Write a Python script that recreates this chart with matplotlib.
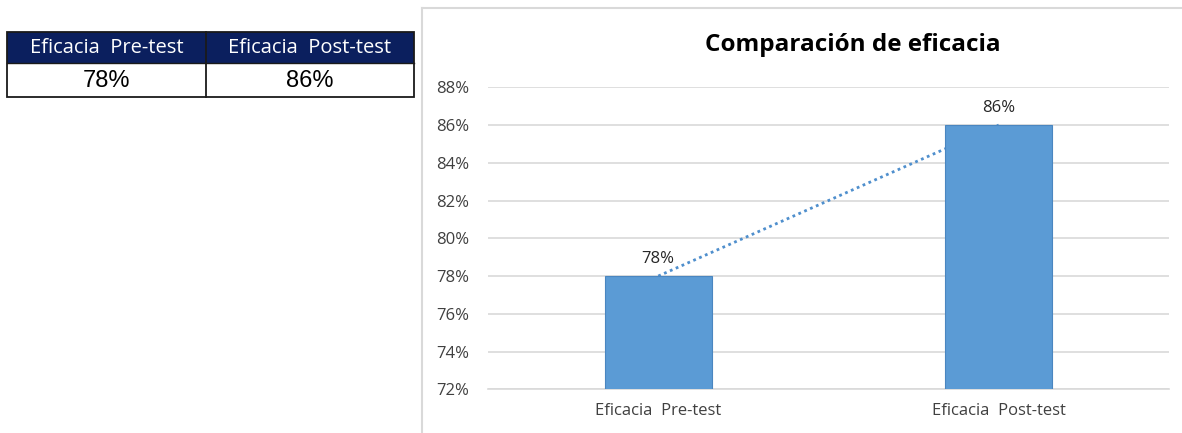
import matplotlib
matplotlib.use("Agg")
import matplotlib.pyplot as plt
from matplotlib.patches import Rectangle
from matplotlib.lines import Line2D
from matplotlib.ticker import FuncFormatter

categories = ["Eficacia  Pre-test", "Eficacia  Post-test"]
values = [78, 86]
y_ticks = [72, 74, 76, 78, 80, 82, 84, 86, 88]
title = "Comparación de eficacia"

W, H = 1182, 433
fig = plt.figure(figsize=(W / 100, H / 100), dpi=100)
fig.patch.set_facecolor("white")

def fx(px):
    return px / W

def fy(py):
    return 1 - py / H

# chart frame
frame_color = "#D9D9D9"
fig.add_artist(Line2D([fx(422), fx(422)], [fy(8), 0], color=frame_color, lw=1.5, transform=fig.transFigure))
fig.add_artist(Line2D([fx(422), 1], [fy(8), fy(8)], color=frame_color, lw=1.5, transform=fig.transFigure))

# plot area
ax = fig.add_axes([fx(488), fy(389.3), fx(1169) - fx(488), fy(87.3) - fy(389.3)])
x = list(range(len(categories)))
bar_color = "#5B9BD5"
ax.bar(x, values, width=0.315, bottom=0, color=bar_color, edgecolor="#4A86C0", lw=0.8, zorder=3)
# linear trend through the two values
ax.plot(x, values, linestyle=(0, (1, 1.3)), color="#4F8FCD", lw=2.0, zorder=2)
for xi, v in zip(x, values):
    ax.text(xi, v + 0.5, f"{v}%", ha="center", va="bottom", fontsize=12,
            family="Open Sans", color="#262626", zorder=4)

ax.set_xlim(-0.5, 1.5)
ax.set_ylim(72, 88)
ax.set_yticks(y_ticks)
ax.yaxis.set_major_formatter(FuncFormatter(lambda v, p: f"{v:.0f}%"))
ax.set_xticks(x)
ax.set_xticklabels(categories)
ax.grid(axis="y", color="#D9D9D9", lw=1.2, zorder=0)
ax.set_axisbelow(True)
for s in ["top", "right", "left"]:
    ax.spines[s].set_visible(False)
ax.spines["bottom"].set_color("#D9D9D9")
ax.spines["bottom"].set_linewidth(1.2)
ax.tick_params(axis="both", length=0, labelsize=12, colors="#404040")
ax.tick_params(axis="y", pad=13.5)
ax.tick_params(axis="x", pad=10)
for lab in ax.get_xticklabels() + ax.get_yticklabels():
    lab.set_family("Open Sans")

fig.text(fx(853), fy(45), title, ha="center", va="center", fontsize=17.5,
         fontweight="bold", family="Open Sans", color="black")

# summary table
tab_left, tab_right, tab_mid = 7, 414, 206
head_top, head_bot, row_bot = 32, 63, 97
navy = "#0B1F5E"
fig.add_artist(Rectangle((fx(tab_left), fy(head_bot)), fx(tab_right) - fx(tab_left),
                         fy(head_top) - fy(head_bot), transform=fig.transFigure,
                         facecolor=navy, edgecolor="none"))
fig.add_artist(Rectangle((fx(tab_left), fy(row_bot)), fx(tab_right) - fx(tab_left),
                         fy(head_top) - fy(row_bot), transform=fig.transFigure,
                         facecolor="none", edgecolor="#1a1a1a", lw=1.3))
fig.add_artist(Line2D([fx(tab_mid), fx(tab_mid)], [fy(head_top), fy(row_bot)],
                      color="#1a1a1a", lw=1.3, transform=fig.transFigure))
fig.add_artist(Line2D([fx(tab_left), fx(tab_right)], [fy(head_bot), fy(head_bot)],
                      color="#1a1a1a", lw=1.0, transform=fig.transFigure))
centers = [(tab_left + tab_mid) / 2, (tab_mid + tab_right) / 2]
for cx, cat, v in zip(centers, categories, values):
    fig.text(fx(cx), fy(48), cat, ha="center", va="center", fontsize=14.5,
             family="Open Sans", color="white")
    fig.text(fx(cx), fy(81), f"{v}%", ha="center", va="center", fontsize=17,
             family="Liberation Sans", color="black")

fig.savefig("out.png", dpi=100, facecolor="white")
